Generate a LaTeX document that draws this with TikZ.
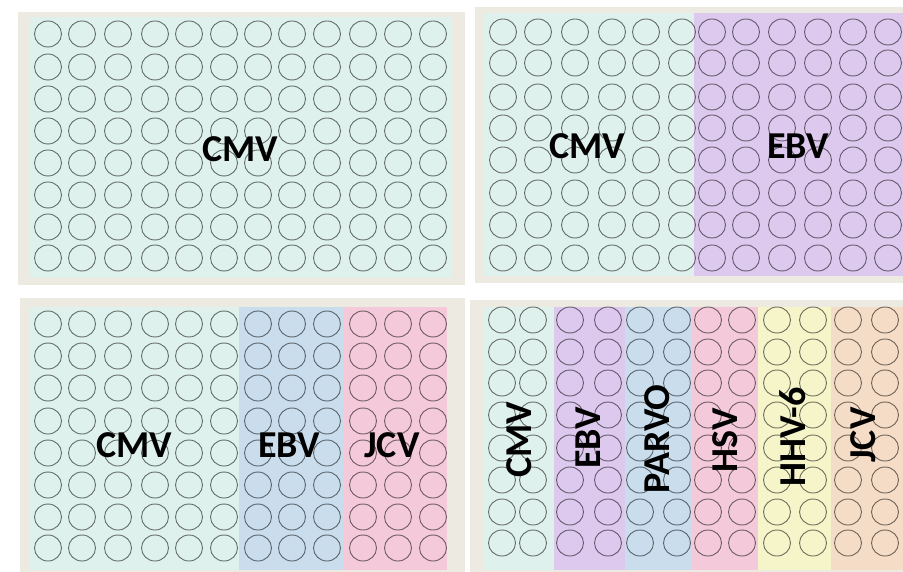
\documentclass[tikz,border=0pt]{standalone}
\usepackage{fontspec}
\setmainfont{Carlito}
\usepackage{xcolor}
\definecolor{plframe}{RGB}{237,234,226}
\definecolor{plcyan}{RGB}{223,241,236}
\definecolor{plpurple}{RGB}{221,200,238}
\definecolor{plblue}{RGB}{201,221,237}
\definecolor{plpink}{RGB}{244,201,217}
\definecolor{plyellow}{RGB}{246,244,201}
\definecolor{plpeach}{RGB}{245,220,198}
\usetikzlibrary{positioning}

\tikzset{
  well/.style={draw=black, draw opacity=0.55, line width=0.9pt},
  virus/.style={font=\fontsize{38}{44}\selectfont\bfseries, inner sep=0pt},
  vvirus/.style={virus, rotate=90}
}

\begin{document}
\begin{tikzpicture}[x=1pt, y=-1pt]
\useasboundingbox (0,0) rectangle (903,572);

% --- Plate 1: CMV only ---
\fill[plframe] (18,12) rectangle (465,285);
\fill[plcyan] (30,17) rectangle (451,278);
\foreach \x in {48,82,118,155,189,224,258,292,327,363,398,433}
  \foreach \y in {34,67,99,131,163,195,227,258}
    \draw[well] (\x,\y) ellipse [x radius=13.5, y radius=13];
\node[virus] (tl-cmv) at (240,149) {CMV};

% --- Plate 2: CMV / EBV ---
\fill[plframe] (475,7) rectangle (903,283);
\fill[plcyan] (483,13) rectangle (694,276);
\fill[plpurple] (694,13) rectangle (903,276);
\foreach \x in {503,538,575,612,646,682,712,746,782,818,853,888}
  \foreach \y in {32,63,97,128,160,193,225,258}
    \draw[well] (\x,\y) ellipse [x radius=13.5, y radius=13];
\node[virus] (tr-cmv) at (587,146) {CMV};
\node[virus] (tr-ebv) at (798,146) {EBV};

% --- Plate 3: CMV / EBV / JCV ---
\fill[plframe] (20,298) rectangle (465,572);
\fill[plcyan] (30,307) rectangle (239,570);
\fill[plblue] (239,307) rectangle (343,570);
\fill[plpink] (343,307) rectangle (447,570);
\foreach \x in {48,82,118,155,189,224,258,292,327,363,398,433}
  \foreach \y in {324,356,388,421,453,485,517,548}
    \draw[well] (\x,\y) ellipse [x radius=13.5, y radius=13];
\node[virus] (bl-cmv) at (134,445) {CMV};
\node[virus] (bl-ebv) at (289,445) {EBV};
\node[virus] (bl-jcv) at (392,445) {JCV};

% --- Plate 4: six viruses, two columns each ---
\fill[plframe] (470,300) rectangle (903,572);
\fill[plcyan] (483,307) rectangle (554,570);
\fill[plpurple] (554,307) rectangle (625,570);
\fill[plblue] (625,307) rectangle (692,570);
\fill[plpink] (692,307) rectangle (758,570);
\fill[plyellow] (758,307) rectangle (831,570);
\fill[plpeach] (831,307) rectangle (903,570);
\foreach \x in {502,533,570,608,640,677,708,742,777,813,848,885}
  \foreach \y in {320,352,383,415,448,480,512,543}
    \draw[well] (\x,\y) ellipse [x radius=13.5, y radius=13];
\node[vvirus] (br-cmv) at (519,440) {CMV};
\node[vvirus] (br-ebv) at (588,438) {EBV};
\node[vvirus] (br-parvo) at (657,439) {PARVO};
\node[vvirus] (br-hsv) at (725,440) {HSV};
\node[vvirus] (br-hhv) at (793,437) {HHV-6};
\node[vvirus] (br-jcv) at (863,435) {JCV};

\end{tikzpicture}
\end{document}
